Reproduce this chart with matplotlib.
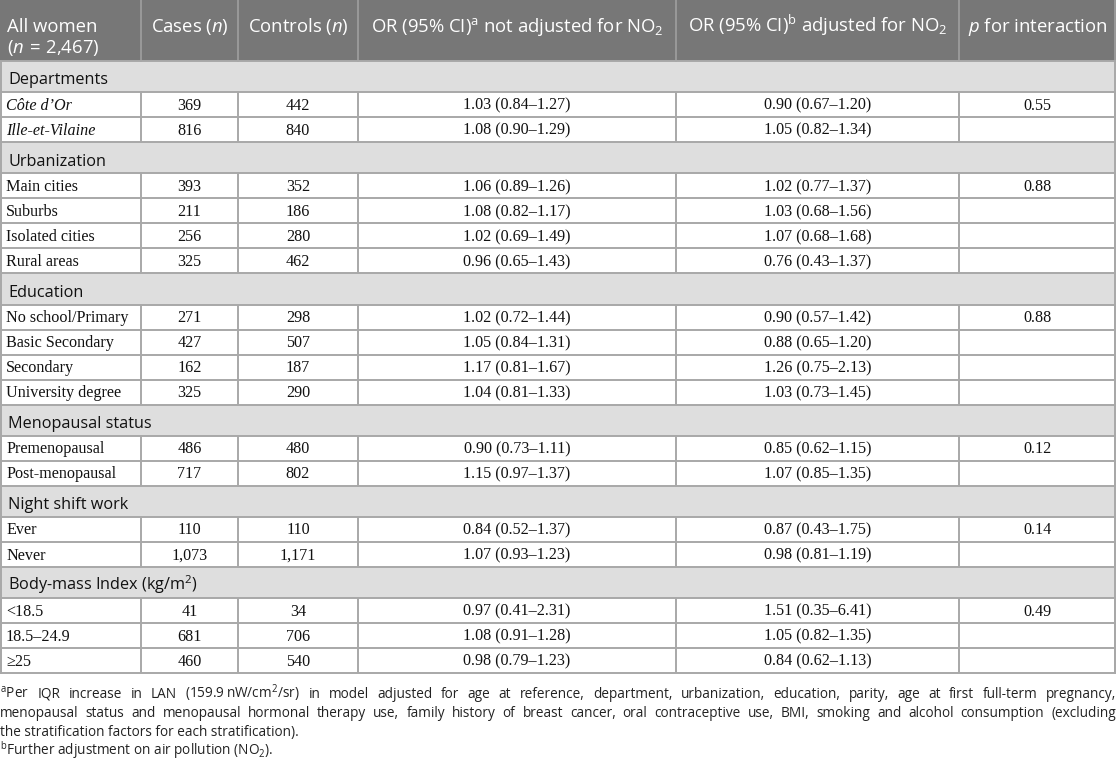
import matplotlib.pyplot as plt
from matplotlib.patches import Rectangle

# Table content
sections = ["Departments", "Urbanization", "Education", "Menopausal status",
            "Night shift work", "Body-mass Index (kg/m$^{2}$)"]
section_sizes = [2, 4, 4, 2, 2, 3]
p_interaction = ["0.55", "0.88", "0.88", "0.12", "0.14", "0.49"]

strata = ["Côte d\u2019Or", "Ille-et-Vilaine",
          "Main cities", "Suburbs", "Isolated cities", "Rural areas",
          "No school/Primary", "Basic Secondary", "Secondary", "University degree",
          "Premenopausal", "Post-menopausal",
          "Ever", "Never",
          "<18.5", "18.5\u201324.9", "\u226525"]
italic_strata = ["Côte d\u2019Or", "Ille-et-Vilaine"]
cases = ["369", "816", "393", "211", "256", "325", "271", "427", "162", "325",
         "486", "717", "110", "1,073", "41", "681", "460"]
controls = ["442", "840", "352", "186", "280", "462", "298", "507", "187", "290",
            "480", "802", "110", "1,171", "34", "706", "540"]
or_crude = ["1.03 (0.84\u20131.27)", "1.08 (0.90\u20131.29)",
            "1.06 (0.89\u20131.26)", "1.08 (0.82\u20131.17)", "1.02 (0.69\u20131.49)", "0.96 (0.65\u20131.43)",
            "1.02 (0.72\u20131.44)", "1.05 (0.84\u20131.31)", "1.17 (0.81\u20131.67)", "1.04 (0.81\u20131.33)",
            "0.90 (0.73\u20131.11)", "1.15 (0.97\u20131.37)",
            "0.84 (0.52\u20131.37)", "1.07 (0.93\u20131.23)",
            "0.97 (0.41\u20132.31)", "1.08 (0.91\u20131.28)", "0.98 (0.79\u20131.23)"]
or_adjusted = ["0.90 (0.67\u20131.20)", "1.05 (0.82\u20131.34)",
               "1.02 (0.77\u20131.37)", "1.03 (0.68\u20131.56)", "1.07 (0.68\u20131.68)", "0.76 (0.43\u20131.37)",
               "0.90 (0.57\u20131.42)", "0.88 (0.65\u20131.20)", "1.26 (0.75\u20132.13)", "1.03 (0.73\u20131.45)",
               "0.85 (0.62\u20131.15)", "1.07 (0.85\u20131.35)",
               "0.87 (0.43\u20131.75)", "0.98 (0.81\u20131.19)",
               "1.51 (0.35\u20136.41)", "1.05 (0.82\u20131.35)", "0.84 (0.62\u20131.13)"]

headers = ["All women", "Cases ($n$)", "Controls ($n$)",
           "OR (95% CI)$^{\\mathrm{a}}$ not adjusted for NO$_{2}$",
           "OR (95% CI)$^{\\mathrm{b}}$ adjusted for NO$_{2}$",
           "$p$ for interaction"]
header_sub = "($n\\,=\\,$2,467)"

footnotes = [
    "$^{\\mathrm{a}}$Per IQR increase in LAN (159.9\u2009nW/cm$^{2}$/sr) in model adjusted for age at reference, "
    "department, urbanization, education, parity, age at first full-term pregnancy,",
    "menopausal status and menopausal hormonal therapy use, family history of breast cancer, "
    "oral contraceptive use, BMI, smoking and alcohol consumption (excluding",
    "the stratification factors for each stratification).",
    "$^{\\mathrm{b}}$Further adjustment on air pollution (NO$_{2}$).",
]

# Layout (pixels)
W, H = 1116, 762
col_edges = [0, 141, 238, 358, 676, 959, 1116]
header_h = 61
section_h = 31.2
row_h = 25
header_bg = "#777777"
section_bg = "#dedede"
line_col = "#a8a8a8"
lw = 1.4

plt.rcParams['mathtext.fontset'] = 'custom'
plt.rcParams['mathtext.rm'] = 'Open Sans'
plt.rcParams['mathtext.it'] = 'Open Sans:italic'
plt.rcParams['mathtext.bf'] = 'Open Sans:bold'

sans = ['Open Sans', 'DejaVu Sans']
serif = ['Liberation Serif', 'DejaVu Serif']
head_fs = 13.3
section_fs = 11.7
body_fs = 11.6

fig = plt.figure(figsize=(W / 100, H / 100), dpi=100)
ax = fig.add_axes([0, 0, 1, 1])
ax.set_xlim(0, W)
ax.set_ylim(H, 0)
ax.axis('off')

centers = [(col_edges[i] + col_edges[i + 1]) / 2 for i in range(len(col_edges) - 1)]

# Header
ax.add_patch(Rectangle((0, 0), W, header_h, facecolor=header_bg, edgecolor='none'))
for i, h in enumerate(headers):
    if i == 0:
        ax.text(7, 32, h, ha='left', va='baseline', color='white', fontsize=head_fs, family=sans)
        ax.text(7, 52.5, header_sub, ha='left', va='baseline', color='white', fontsize=head_fs, family=sans)
    else:
        ax.text(centers[i], 32, h, ha='center', va='baseline', color='white',
                fontsize=head_fs, family=sans)
for x in col_edges[1:]:
    xx = min(x, W - 0.7)
    ax.plot([xx, xx], [0, header_h], color='#999999', lw=lw)

# Body
y = header_h
row_idx = 0
h_lines = [header_h]
v_segments = []
for s, name in enumerate(sections):
    ax.add_patch(Rectangle((0, y), W, section_h, facecolor=section_bg, edgecolor='none'))
    ax.text(8, y + 23.5, name, ha='left', va='baseline', fontsize=section_fs,
            family=sans, color='#111111')
    y += section_h
    h_lines.append(y)
    for k in range(section_sizes[s]):
        cy = y + row_h / 2 + 1
        label = strata[row_idx]
        ax.text(6, cy, label, ha='left', va='center', fontsize=body_fs, family=serif,
                style='italic' if label in italic_strata else 'normal', color='#111111')
        vals = [cases[row_idx], controls[row_idx], or_crude[row_idx], or_adjusted[row_idx],
                p_interaction[s] if k == 0 else ""]
        for c, v in enumerate(vals):
            ax.text(centers[c + 1], cy, v, ha='center', va='center', fontsize=body_fs,
                    family=serif, color='#111111')
        v_segments.append((y, y + row_h))
        y += row_h
        h_lines.append(y)
        row_idx += 1
table_bottom = y

for hy in h_lines:
    ax.plot([0, W], [hy, hy], color=line_col, lw=lw, solid_capstyle='butt')
for y0, y1 in v_segments:
    for x in col_edges:
        xx = min(max(x, 0.7), W - 0.7)
        ax.plot([xx, xx], [y0, y1], color=line_col, lw=lw, solid_capstyle='butt')
ax.plot([0.7, 0.7], [header_h, table_bottom], color=line_col, lw=lw)
ax.plot([W - 0.7, W - 0.7], [header_h, table_bottom], color=line_col, lw=lw)

# Footnotes (first two lines justified)
renderer = fig.canvas.get_renderer()


def justify(line, ybase, x0, x1, **kw):
    words = line.split(' ')
    objs = [ax.text(0, ybase, w, ha='left', va='baseline', **kw) for w in words]
    widths = [t.get_window_extent(renderer).width for t in objs]
    gap = (x1 - x0 - sum(widths)) / (len(words) - 1)
    x = x0
    for t, wd in zip(objs, widths):
        t.set_x(x)
        x += wd + gap


foot_y = [698, 717, 736, 755]
fkw = dict(fontsize=9.8, family=sans, color='#222222')
justify(footnotes[0], foot_y[0], 0, W, **fkw)
justify(footnotes[1], foot_y[1], 0, W, **fkw)
ax.text(0, foot_y[2], footnotes[2], ha='left', va='baseline', **fkw)
ax.text(0, foot_y[3], footnotes[3], ha='left', va='baseline', **fkw)

plt.savefig('out.png', dpi=100)
